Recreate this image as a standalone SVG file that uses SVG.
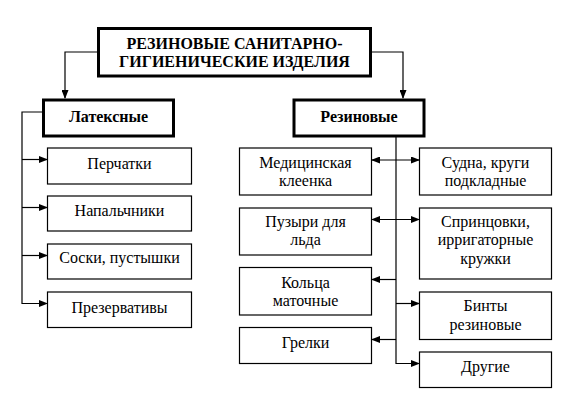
<svg xmlns="http://www.w3.org/2000/svg" width="576" height="401" viewBox="0 0 576 401">
<defs>
<marker id="ah" markerWidth="9" markerHeight="7" refX="8" refY="3.5" orient="auto-start-reverse" markerUnits="userSpaceOnUse">
<path d="M0,0 L9,3.5 L0,7 z" fill="#000"/>
</marker>
<style>
.box{fill:#fff;stroke:#000;stroke-width:1.2}
.tbox{fill:#fff;stroke:#000;stroke-width:3}
.c{fill:none;stroke:#000;stroke-width:1.2}
</style>
</defs>
<rect width="576" height="401" fill="#fff"/>
<g id="connectors">
<path class="c" d="M98,52 H65 V98" marker-end="url(#ah)"/>
<path class="c" d="M370,52 H403 V98" marker-end="url(#ah)"/>
<path class="c" d="M43,112 H22 V303.5 H47" marker-end="url(#ah)"/>
<path class="c" d="M22,159.5 H47" marker-end="url(#ah)"/>
<path class="c" d="M22,207.5 H47" marker-end="url(#ah)"/>
<path class="c" d="M22,255.5 H47" marker-end="url(#ah)"/>
<path class="c" d="M396,137 V363.5 H419" marker-end="url(#ah)"/>
<path class="c" d="M372,160 H419" marker-start="url(#ah)" marker-end="url(#ah)"/>
<path class="c" d="M372,219.5 H419" marker-start="url(#ah)" marker-end="url(#ah)"/>
<path class="c" d="M396,279.5 H372" marker-end="url(#ah)"/>
<path class="c" d="M396,303.5 H419" marker-end="url(#ah)"/>
<path class="c" d="M396,339.5 H372" marker-end="url(#ah)"/>
</g>
<g id="root">
<rect class="tbox" x="98.5" y="28.5" width="272" height="47.5"/>
<text style="font-family:'Liberation Serif',serif" font-size="16" font-weight="bold" text-anchor="middle" x="234.5" y="48.5">РЕЗИНОВЫЕ САНИТАРНО-</text>
<text style="font-family:'Liberation Serif',serif" font-size="16" font-weight="bold" text-anchor="middle" x="234.5" y="67">ГИГИЕНИЧЕСКИЕ ИЗДЕЛИЯ</text>
</g>
<g id="latex">
<rect class="tbox" x="43.5" y="100" width="130" height="36"/>
<text style="font-family:'Liberation Serif',serif" font-size="16" font-weight="bold" text-anchor="middle" x="108.5" y="122">Латексные</text>
</g>
<g id="rubber">
<rect class="tbox" x="294" y="100" width="130" height="36"/>
<text style="font-family:'Liberation Serif',serif" font-size="16" font-weight="bold" text-anchor="middle" x="359" y="122">Резиновые</text>
</g>
<g id="gloves">
<rect class="box" x="47.5" y="148" width="144" height="36"/>
<text style="font-family:'Liberation Serif',serif" font-size="16" text-anchor="middle" x="119.5" y="168.5">Перчатки</text>
</g>
<g id="fingercots">
<rect class="box" x="47.5" y="196" width="144" height="35"/>
<text style="font-family:'Liberation Serif',serif" font-size="16" text-anchor="middle" x="119.5" y="216">Напальчники</text>
</g>
<g id="nipples">
<rect class="box" x="47.5" y="244" width="144" height="35"/>
<text style="font-family:'Liberation Serif',serif" font-size="16" text-anchor="middle" x="119.5" y="263">Соски, пустышки</text>
</g>
<g id="condoms">
<rect class="box" x="47.5" y="292" width="144" height="35.5"/>
<text style="font-family:'Liberation Serif',serif" font-size="16" text-anchor="middle" x="119.5" y="312.5">Презервативы</text>
</g>
<g id="oilcloth">
<rect class="box" x="239.5" y="148" width="132" height="47"/>
<text style="font-family:'Liberation Serif',serif" font-size="16" text-anchor="middle" x="305.5" y="167.5">Медицинская</text>
<text style="font-family:'Liberation Serif',serif" font-size="16" text-anchor="middle" x="305.5" y="186">клеенка</text>
</g>
<g id="icebags">
<rect class="box" x="239.5" y="208" width="132" height="47"/>
<text style="font-family:'Liberation Serif',serif" font-size="16" text-anchor="middle" x="305.5" y="227">Пузыри для</text>
<text style="font-family:'Liberation Serif',serif" font-size="16" text-anchor="middle" x="305.5" y="245">льда</text>
</g>
<g id="rings">
<rect class="box" x="239.5" y="267.5" width="132" height="47.5"/>
<text style="font-family:'Liberation Serif',serif" font-size="16" text-anchor="middle" x="305.5" y="287.5">Кольца</text>
<text style="font-family:'Liberation Serif',serif" font-size="16" text-anchor="middle" x="305.5" y="306">маточные</text>
</g>
<g id="hotwater">
<rect class="box" x="239.5" y="327.5" width="132" height="36"/>
<text style="font-family:'Liberation Serif',serif" font-size="16" text-anchor="middle" x="305.5" y="347.5">Грелки</text>
</g>
<g id="bedpans">
<rect class="box" x="419.5" y="148" width="132" height="47"/>
<text style="font-family:'Liberation Serif',serif" font-size="16" text-anchor="middle" x="485.5" y="167.5">Судна, круги</text>
<text style="font-family:'Liberation Serif',serif" font-size="16" text-anchor="middle" x="485.5" y="186">подкладные</text>
</g>
<g id="syringes">
<rect class="box" x="419.5" y="208" width="132" height="71"/>
<text style="font-family:'Liberation Serif',serif" font-size="16" text-anchor="middle" x="485.5" y="227">Спринцовки,</text>
<text style="font-family:'Liberation Serif',serif" font-size="16" text-anchor="middle" x="485.5" y="245">ирригаторные</text>
<text style="font-family:'Liberation Serif',serif" font-size="16" text-anchor="middle" x="485.5" y="263.5">кружки</text>
</g>
<g id="bandages">
<rect class="box" x="419.5" y="292" width="132" height="47.5"/>
<text style="font-family:'Liberation Serif',serif" font-size="16" text-anchor="middle" x="485.5" y="311">Бинты</text>
<text style="font-family:'Liberation Serif',serif" font-size="16" text-anchor="middle" x="485.5" y="329.5">резиновые</text>
</g>
<g id="other">
<rect class="box" x="419.5" y="352" width="132" height="35.5"/>
<text style="font-family:'Liberation Serif',serif" font-size="16" text-anchor="middle" x="485.5" y="372">Другие</text>
</g>
</svg>
